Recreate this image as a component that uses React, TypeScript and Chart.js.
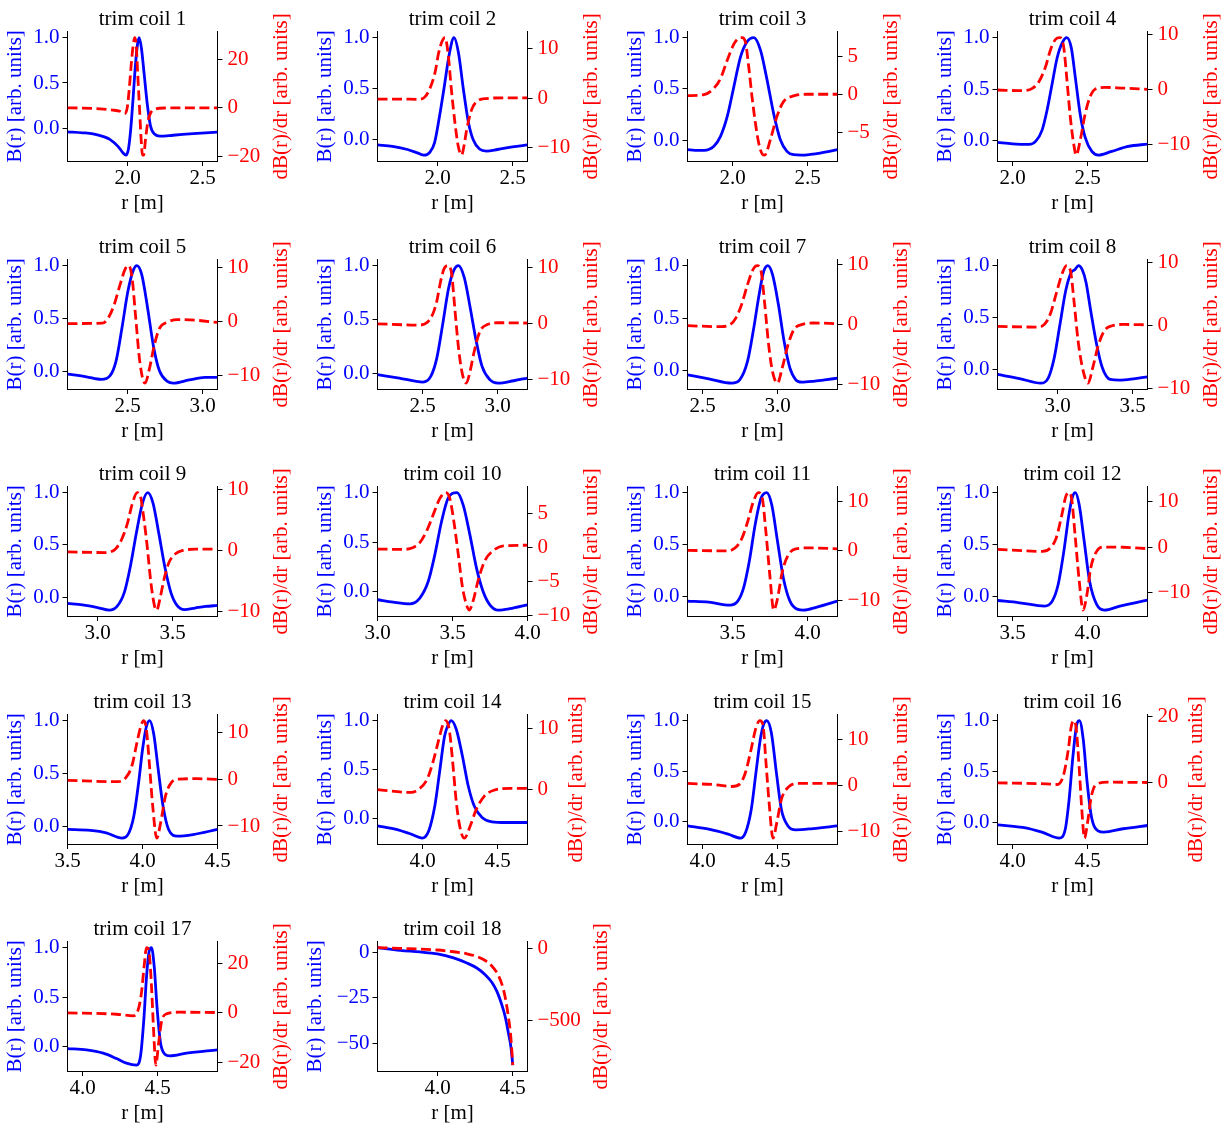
import React, { useEffect, useRef } from "react";
import { Chart, registerables } from "chart.js";

Chart.register(...registerables);

type Pt = [number, number];

// ------------------------------------------------------------------ data
const coilTitles: string[] = [
  "trim coil 1", "trim coil 2", "trim coil 3", "trim coil 4", "trim coil 5", "trim coil 6",
  "trim coil 7", "trim coil 8", "trim coil 9", "trim coil 10", "trim coil 11", "trim coil 12",
  "trim coil 13", "trim coil 14", "trim coil 15", "trim coil 16", "trim coil 17", "trim coil 18",
];

const xLimits: Pt[] = [
  [1.6, 2.6], [1.6, 2.6], [1.7, 2.7], [1.9, 2.9], [2.1, 3.1], [2.2, 3.2],
  [2.4, 3.4], [2.6, 3.6], [2.8, 3.8], [3.0, 4.0], [3.2, 4.2], [3.4, 4.4],
  [3.5, 4.5], [3.7, 4.7], [3.9, 4.9], [3.9, 4.9], [3.9, 4.9], [3.6, 4.6],
];

const xTickValues: number[][] = [
  [2.0, 2.5], [2.0, 2.5], [2.0, 2.5], [2.0, 2.5], [2.5, 3.0], [2.5, 3.0],
  [2.5, 3.0], [3.0, 3.5], [3.0, 3.5], [3.0, 3.5, 4.0], [3.5, 4.0], [3.5, 4.0],
  [3.5, 4.0, 4.5], [4.0, 4.5], [4.0, 4.5], [4.0, 4.5], [4.0, 4.5], [4.0, 4.5],
];

const fieldTicks: number[] = [0, 0.5, 1.0];
const fieldTicksCoil18: number[] = [-50, -25, 0];

const derivTickValues: number[][] = [
  [-20, 0, 20], [-10, 0, 10], [-5, 0, 5], [-10, 0, 10], [-10, 0, 10], [-10, 0, 10],
  [-10, 0, 10], [-10, 0, 10], [-10, 0, 10], [-10, -5, 0, 5], [-10, 0, 10], [-10, 0, 10],
  [-10, 0, 10], [0, 10], [-10, 0, 10], [0, 20], [-20, 0, 20], [-500, 0],
];

// B(r) (solid blue) and dB(r)/dr (dashed red), [r, value]
const field1: Pt[] = [[1.6,-0.037],[1.7,-0.048],[1.771,-0.06],[1.84,-0.09],[1.882,-0.12],[1.938,-0.2],[1.971,-0.27],[1.989,-0.294],[2.007,-0.22],[2.022,0.0],[2.038,0.35],[2.053,0.7],[2.067,0.93],[2.078,1.0],[2.093,0.88],[2.111,0.6],[2.131,0.28],[2.153,0.03],[2.182,-0.065],[2.216,-0.085],[2.304,-0.075],[2.438,-0.057],[2.6,-0.04]];
const deriv1: Pt[] = [[1.6,0],[1.7,-0.1],[1.816,-0.4],[1.9,-0.9],[1.949,-1.4],[1.982,-2.4],[1.998,0],[2.012,8],[2.025,18],[2.038,26],[2.048,29],[2.058,26],[2.068,14],[2.08,0],[2.09,-12],[2.1,-19.5],[2.108,-19.5],[2.12,-13],[2.135,-6],[2.155,-2],[2.185,-0.5],[2.25,-0.05],[2.4,0],[2.6,0]];

const field2: Pt[] = [[1.6,-0.05],[1.7,-0.065],[1.8,-0.095],[1.87,-0.13],[1.91,-0.15],[1.95,-0.12],[1.98,-0.03],[2.01,0.2],[2.043,0.5],[2.08,0.85],[2.11,1.0],[2.14,0.85],[2.172,0.5],[2.205,0.18],[2.238,0.0],[2.28,-0.09],[2.326,-0.11],[2.4,-0.095],[2.5,-0.07],[2.6,-0.05]];
const deriv2: Pt[] = [[1.6,-0.2],[1.75,-0.2],[1.88,-0.25],[1.918,0.3],[1.95,2],[1.985,5.4],[2.007,9.1],[2.03,11.5],[2.05,12.3],[2.062,11.0],[2.073,8.4],[2.093,1.6],[2.117,-5.2],[2.139,-9.9],[2.161,-11.6],[2.175,-10],[2.194,-6.5],[2.227,-2.4],[2.26,-0.75],[2.326,-0.1],[2.45,0.05],[2.6,0.05]];

const field3: Pt[] = [[1.7,-0.094],[1.75,-0.1],[1.81,-0.1],[1.876,-0.06],[1.92,0.036],[1.965,0.23],[2.009,0.52],[2.053,0.81],[2.097,0.96],[2.142,1.0],[2.186,0.88],[2.23,0.59],[2.274,0.26],[2.319,0.003],[2.363,-0.11],[2.407,-0.143],[2.46,-0.147],[2.52,-0.14],[2.584,-0.127],[2.7,-0.094]];
const deriv3: Pt[] = [[1.7,-0.13],[1.81,0],[1.876,0.83],[1.92,2.1],[1.965,4.5],[2.009,6.6],[2.04,7.35],[2.064,7.45],[2.086,6.9],[2.108,3.65],[2.13,-0.26],[2.153,-3.74],[2.175,-6.35],[2.2,-7.8],[2.215,-7.9],[2.252,-5.9],[2.296,-2.87],[2.34,-0.91],[2.407,-0.17],[2.496,0.05],[2.7,0.05]];

const field4: Pt[] = [[1.9,-0.016],[2.0,-0.03],[2.11,-0.035],[2.154,-0.006],[2.198,0.106],[2.231,0.3],[2.264,0.55],[2.297,0.8],[2.332,0.95],[2.362,1.0],[2.392,0.9],[2.42,0.6],[2.452,0.25],[2.485,0.03],[2.529,-0.103],[2.573,-0.139],[2.661,-0.103],[2.771,-0.055],[2.9,-0.032]];
const deriv4: Pt[] = [[1.9,-0.12],[2.066,-0.24],[2.132,0.18],[2.176,1.4],[2.22,4.1],[2.253,7.2],[2.286,9.1],[2.315,9.45],[2.341,7.8],[2.363,1.7],[2.385,-5.0],[2.407,-9.8],[2.425,-12.0],[2.452,-9.2],[2.485,-4.4],[2.518,-1.3],[2.55,0],[2.617,0.36],[2.727,0.24],[2.9,0]];

const field5: Pt[] = [[2.1,-0.025],[2.226,-0.05],[2.326,-0.075],[2.384,-0.04],[2.424,0.1],[2.463,0.41],[2.503,0.76],[2.54,0.96],[2.563,1.0],[2.595,0.915],[2.634,0.6],[2.674,0.23],[2.713,0.006],[2.766,-0.094],[2.805,-0.11],[2.911,-0.08],[3.016,-0.056],[3.1,-0.056]];
const deriv5: Pt[] = [[2.1,-0.4],[2.332,-0.34],[2.371,0.6],[2.411,3.1],[2.45,6.8],[2.487,9.9],[2.508,10.4],[2.531,8.0],[2.555,0.6],[2.582,-7.5],[2.616,-11.5],[2.647,-8.7],[2.679,-4.4],[2.713,-1.3],[2.766,-0.15],[2.832,0.34],[2.963,0.2],[3.1,-0.2]];

const field6: Pt[] = [[2.2,-0.012],[2.345,-0.043],[2.503,-0.08],[2.555,-0.028],[2.595,0.14],[2.634,0.45],[2.674,0.79],[2.71,0.96],[2.74,1.0],[2.779,0.885],[2.818,0.61],[2.858,0.3],[2.897,0.065],[2.95,-0.06],[3.003,-0.09],[3.108,-0.068],[3.2,-0.043]];
const deriv6: Pt[] = [[2.2,-0.1],[2.476,-0.33],[2.529,0.1],[2.568,1.6],[2.595,3.9],[2.621,7.5],[2.647,9.9],[2.674,10.3],[2.695,8.7],[2.713,3.4],[2.74,-4.4],[2.766,-9.1],[2.792,-10.7],[2.818,-8.5],[2.845,-5.0],[2.884,-1.4],[2.937,-0.2],[3.003,0.09],[3.2,0.03]];

const field7: Pt[] = [[2.4,-0.038],[2.542,-0.076],[2.696,-0.117],[2.748,-0.086],[2.8,0.089],[2.838,0.375],[2.877,0.72],[2.908,0.946],[2.936,1.0],[2.967,0.914],[3.006,0.63],[3.044,0.28],[3.083,0.025],[3.122,-0.086],[3.16,-0.108],[3.238,-0.1],[3.315,-0.086],[3.4,-0.07]];
const deriv7: Pt[] = [[2.4,-0.17],[2.619,-0.34],[2.684,0],[2.722,1.1],[2.761,3.4],[2.8,6.7],[2.838,9.3],[2.864,9.9],[2.89,9.0],[2.915,3.4],[2.941,-3.4],[2.967,-7.9],[3.0,-9.8],[3.031,-7.3],[3.07,-3.4],[3.109,-0.84],[3.16,0],[3.238,0.28],[3.4,0.17]];

const field8: Pt[] = [[2.6,-0.048],[2.747,-0.087],[2.888,-0.131],[2.939,-0.08],[2.978,0.11],[3.016,0.43],[3.055,0.76],[3.09,0.93],[3.115,0.96],[3.14,1.0],[3.165,0.96],[3.19,0.84],[3.222,0.56],[3.261,0.24],[3.299,0.016],[3.351,-0.096],[3.415,-0.103],[3.518,-0.087],[3.6,-0.07]];
const deriv8: Pt[] = [[2.6,-0.16],[2.875,-0.26],[2.914,0.2],[2.952,1.8],[2.991,5.0],[3.029,8.1],[3.06,9.5],[3.086,8.7],[3.112,3.4],[3.137,-2.4],[3.171,-7.2],[3.204,-9.15],[3.235,-6.7],[3.274,-3.0],[3.312,-0.85],[3.364,-0.05],[3.44,0.16],[3.6,0.1]];

const field9: Pt[] = [[2.8,-0.06],[2.9,-0.075],[3.0,-0.1],[3.08,-0.125],[3.13,-0.09],[3.18,0.05],[3.22,0.3],[3.26,0.62],[3.3,0.9],[3.335,1.0],[3.37,0.9],[3.41,0.6],[3.45,0.28],[3.49,0.04],[3.53,-0.08],[3.58,-0.12],[3.65,-0.105],[3.72,-0.09],[3.8,-0.08]];
const deriv9: Pt[] = [[2.8,-0.2],[3.05,-0.3],[3.12,0.3],[3.16,1.8],[3.2,4.5],[3.23,7.5],[3.265,9.5],[3.285,9.0],[3.305,6],[3.33,1.0],[3.355,-5.0],[3.38,-9.0],[3.395,-9.7],[3.415,-8.0],[3.445,-4.5],[3.475,-2.0],[3.52,-0.5],[3.57,0.05],[3.65,0.25],[3.8,0.25]];

const field10: Pt[] = [[3.0,-0.084],[3.104,-0.108],[3.216,-0.125],[3.282,-0.067],[3.338,0.1],[3.382,0.37],[3.427,0.707],[3.471,0.943],[3.53,1.0],[3.571,0.875],[3.616,0.572],[3.66,0.236],[3.704,0.0],[3.749,-0.135],[3.804,-0.189],[3.882,-0.175],[4.0,-0.135]];
const deriv10: Pt[] = [[3.0,-0.19],[3.171,-0.24],[3.238,0.05],[3.282,0.77],[3.327,2.45],[3.371,4.86],[3.416,7.3],[3.456,8.15],[3.482,7.3],[3.509,3.9],[3.538,-0.9],[3.567,-5.9],[3.593,-8.4],[3.611,-9.2],[3.638,-7.8],[3.671,-4.8],[3.716,-1.9],[3.771,-0.43],[3.838,0.29],[4.0,0.38]];

const field11: Pt[] = [[3.2,-0.048],[3.342,-0.058],[3.483,-0.087],[3.535,-0.048],[3.574,0.08],[3.612,0.337],[3.651,0.69],[3.69,0.945],[3.728,1.0],[3.762,0.88],[3.8,0.53],[3.839,0.176],[3.883,-0.048],[3.935,-0.128],[3.973,-0.135],[4.063,-0.106],[4.2,-0.048]];
const deriv11: Pt[] = [[3.2,0.1],[3.471,0],[3.522,0.74],[3.561,2.4],[3.6,5.75],[3.638,9.8],[3.672,11.7],[3.697,10.8],[3.723,3.7],[3.749,-4.95],[3.775,-11.9],[3.8,-9.6],[3.831,-4.3],[3.87,-0.94],[3.922,0.4],[4.012,0.6],[4.2,0.4]];

const field12: Pt[] = [[3.4,-0.042],[3.547,-0.064],[3.714,-0.096],[3.765,-0.048],[3.804,0.11],[3.842,0.43],[3.876,0.785],[3.9,0.96],[3.919,1.0],[3.945,0.88],[3.978,0.53],[4.014,0.144],[4.061,-0.08],[4.112,-0.135],[4.215,-0.096],[4.4,-0.038]];
const deriv12: Pt[] = [[3.4,-0.47],[3.7,-0.9],[3.752,-0.18],[3.791,2.0],[3.829,7.1],[3.855,11.1],[3.876,12.0],[3.894,10.7],[3.919,2.0],[3.945,-7.45],[3.971,-13.8],[3.996,-10.4],[4.022,-4.5],[4.061,-0.9],[4.112,0.04],[4.24,0],[4.4,-0.3]];

const field13: Pt[] = [[3.5,-0.031],[3.653,-0.04],[3.758,-0.063],[3.863,-0.113],[3.903,-0.08],[3.942,0.094],[3.974,0.41],[4.0,0.724],[4.026,0.944],[4.047,1.0],[4.074,0.88],[4.105,0.535],[4.137,0.19],[4.174,-0.031],[4.232,-0.094],[4.337,-0.079],[4.5,-0.031]];
const deriv13: Pt[] = [[3.5,-0.2],[3.837,-0.5],[3.889,0.36],[3.929,2.86],[3.963,7.86],[3.989,11.4],[4.008,12.6],[4.026,10.7],[4.047,2.86],[4.068,-5.7],[4.095,-12.6],[4.121,-9.3],[4.153,-3.6],[4.192,-0.7],[4.245,0.07],[4.363,0.14],[4.5,0]];

const field14: Pt[] = [[3.7,-0.071],[3.818,-0.105],[3.924,-0.155],[3.997,-0.196],[4.042,-0.12],[4.082,0.13],[4.116,0.5],[4.147,0.84],[4.172,0.96],[4.192,1.0],[4.226,0.907],[4.266,0.64],[4.305,0.334],[4.345,0.13],[4.397,0.013],[4.463,-0.03],[4.555,-0.037],[4.7,-0.037]];
const deriv14: Pt[] = [[3.7,-0.1],[3.924,-0.55],[3.976,0],[4.029,1.5],[4.068,4.3],[4.108,8.1],[4.134,10.5],[4.155,11.3],[4.179,9.7],[4.2,4.8],[4.226,-2.3],[4.253,-6.7],[4.279,-8.1],[4.318,-6.1],[4.358,-3.4],[4.411,-1.2],[4.476,-0.2],[4.582,0.1],[4.7,0.1]];

const field15: Pt[] = [[3.9,-0.043],[4.042,-0.076],[4.171,-0.125],[4.253,-0.164],[4.287,-0.108],[4.325,0.12],[4.356,0.48],[4.385,0.81],[4.407,0.96],[4.428,1.0],[4.459,0.88],[4.493,0.48],[4.526,0.12],[4.57,-0.043],[4.622,-0.082],[4.738,-0.069],[4.9,-0.043]];
const deriv15: Pt[] = [[3.9,0.37],[4.093,0.07],[4.196,-0.3],[4.248,0.22],[4.287,2.8],[4.325,7.9],[4.356,12.4],[4.382,14.0],[4.403,13.1],[4.423,5.0],[4.444,-3.8],[4.47,-11.5],[4.495,-8.2],[4.526,-3.1],[4.57,-0.5],[4.635,0.37],[4.9,0.37]];

const field16: Pt[] = [[3.9,-0.023],[4.068,-0.049],[4.196,-0.095],[4.312,-0.154],[4.351,-0.072],[4.377,0.22],[4.403,0.65],[4.428,0.96],[4.446,1.0],[4.472,0.81],[4.498,0.387],[4.526,0.059],[4.57,-0.082],[4.609,-0.095],[4.738,-0.062],[4.9,-0.03]];
const deriv16: Pt[] = [[3.9,0],[4.222,-0.3],[4.3,-0.5],[4.338,2.0],[4.372,10],[4.392,17],[4.408,18.7],[4.423,17],[4.444,5],[4.462,-8],[4.48,-16.6],[4.5,-12],[4.526,-4],[4.557,-0.5],[4.635,0.2],[4.9,0.1]];

const field17: Pt[] = [[3.9,-0.017],[4.027,-0.03],[4.138,-0.063],[4.227,-0.117],[4.293,-0.163],[4.36,-0.183],[4.387,-0.09],[4.409,0.277],[4.427,0.71],[4.444,0.96],[4.46,1.0],[4.478,0.81],[4.498,0.377],[4.52,0.043],[4.549,-0.073],[4.582,-0.09],[4.693,-0.063],[4.9,-0.03]];
const deriv17: Pt[] = [[3.9,0],[4.227,-0.55],[4.338,-1.2],[4.371,1.2],[4.393,8.1],[4.411,19],[4.427,26.5],[4.444,24.5],[4.46,10.8],[4.476,-9.7],[4.489,-21.2],[4.507,-12.5],[4.527,-3.6],[4.56,-0.4],[4.649,0.27],[4.9,0.14]];

const field18: Pt[] = [[3.6,2.6],[3.751,1.1],[3.884,0.2],[4.0,-0.9],[4.107,-3.1],[4.196,-5.9],[4.262,-8.6],[4.318,-12.3],[4.362,-16.5],[4.396,-21.5],[4.429,-28.9],[4.451,-35.3],[4.473,-44.5],[4.489,-51.8],[4.502,-62]];
const deriv18: Pt[] = [[3.6,8],[3.751,2],[3.884,-2],[4.0,-9],[4.107,-21],[4.196,-35],[4.262,-54],[4.318,-82],[4.362,-120],[4.396,-167],[4.429,-246],[4.451,-336],[4.473,-477],[4.489,-617],[4.502,-810]];

const fieldSeries: Pt[][] = [field1, field2, field3, field4, field5, field6, field7, field8, field9, field10, field11, field12, field13, field14, field15, field16, field17, field18];
const derivSeries: Pt[][] = [deriv1, deriv2, deriv3, deriv4, deriv5, deriv6, deriv7, deriv8, deriv9, deriv10, deriv11, deriv12, deriv13, deriv14, deriv15, deriv16, deriv17, deriv18];

// ------------------------------------------------------------------ style / layout
const FONT = "'Liberation Serif', 'Times New Roman', serif";
const FS = 21;
const REF_FS = 20; // size of the original (Computer Modern) text, used for label spacing
const BLUE = "#0000ff";
const RED = "#ff0000";
const ROW_TOPS = [0, 228, 455, 683, 910];
const CELL_W = 310;
const CELL_H = 227;
const EXTRA = 14; // canvas extends a little to the left so wide y-labels are not clipped
const AREA_LEFT = 67.5;
const AREA_RIGHT = 217.5;
const TITLE_H = 31.7;
const AREA_BOTTOM = 161;
const TICK_LEN = 5;

const fmtTick = (v: number, dec: number) => (v < -1e-12 ? "\u2212" : "") + Math.abs(v).toFixed(dec);
const cmWidth = (s: string) =>
  s.split("").reduce((w, c) => w + (c === "." ? 0.278 : c === "\u2212" ? 0.778 : 0.5), 0) * REF_FS;

const paddedRange = (vals: number[]): [number, number] => {
  const mn = Math.min(...vals);
  const mx = Math.max(...vals);
  const m = 0.05 * (mx - mn);
  return [mn - m, mx + m];
};

const rightTitlePlugin = {
  id: "rightTitle",
  afterDraw(chart: any, _args: any, opts: any) {
    if (!opts || !opts.text) return;
    const { ctx, chartArea } = chart;
    ctx.save();
    ctx.translate(opts.x, (chartArea.top + chartArea.bottom) / 2);
    ctx.rotate(-Math.PI / 2);
    ctx.font = `${FS}px ${FONT}`;
    ctx.fillStyle = opts.color;
    ctx.textAlign = "center";
    ctx.textBaseline = "middle";
    ctx.fillText(opts.text, 0, 0);
    ctx.restore();
  },
};

function Panel({ index }: { index: number }) {
  const ref = useRef<HTMLCanvasElement | null>(null);
  const row = Math.floor(index / 4);
  const col = index % 4;
  const w = col === 3 ? 1225 - 3 * CELL_W : CELL_W;
  const cw = w + EXTRA;

  useEffect(() => {
    const canvas = ref.current;
    if (!canvas) return;
    const field = fieldSeries[index];
    const deriv = derivSeries[index];
    const [yMin, yMax] = paddedRange(field.map((p) => p[1]));
    const [y1Min, y1Max] = paddedRange(deriv.map((p) => p[1]));
    const [xMin, xMax] = xLimits[index];
    const eps = 1e-9;
    const lTicksAll = index === 17 ? fieldTicksCoil18 : fieldTicks;
    const lTicks = lTicksAll.filter((v) => v >= yMin - eps && v <= yMax + eps);
    const rTicks = derivTickValues[index].filter((v) => v >= y1Min - eps && v <= y1Max + eps);
    const lDec = lTicksAll.every((t) => Number.isInteger(t)) ? 0 : 1;
    const lW = Math.max(...lTicks.map((v) => cmWidth(fmtTick(v, lDec))));
    const rW = Math.max(...rTicks.map((v) => cmWidth(fmtTick(v, 0))));
    const leftTitleCenter = EXTRA + AREA_LEFT - TICK_LEN - 3 - lW - 8.4 - 10;
    const rightTitleCenter = EXTRA + AREA_RIGHT + TICK_LEN + 5 + rW + 8.6 + 10;
    const lh = FS * 1.2;
    const font = { family: FONT, size: FS, lineHeight: 1.2 };

    const axisCommon = {
      grid: { drawOnChartArea: false, drawTicks: true, tickLength: TICK_LEN, color: "#000", lineWidth: 1 },
      border: { display: true, color: "#000", width: 1 },
    };

    const chart = new Chart(canvas, {
      type: "line",
      data: {
        datasets: [
          {
            label: "dB(r)/dr",
            data: deriv,
            yAxisID: "y1",
            borderColor: RED,
            backgroundColor: RED,
            borderWidth: 2.8,
            borderDash: [10, 4.5],
            borderCapStyle: "butt",
            pointRadius: 0,
            cubicInterpolationMode: "monotone",
            fill: false,
            order: 0,
          },
          {
            label: "B(r)",
            data: field,
            yAxisID: "y",
            borderColor: BLUE,
            backgroundColor: BLUE,
            borderWidth: 2.8,
            pointRadius: 0,
            cubicInterpolationMode: "monotone",
            fill: false,
            order: 1,
          },
        ],
      } as any,
      options: {
        responsive: false,
        animation: false,
        devicePixelRatio: 1,
        layout: { padding: 0 },
        events: [],
        plugins: {
          legend: { display: false },
          tooltip: { enabled: false },
          title: {
            display: true,
            text: coilTitles[index],
            color: "#000",
            font: { ...font, weight: "normal" },
            fullSize: false,
            padding: { top: 6.4, bottom: TITLE_H - 6.4 - lh },
          },
          rightTitle: { text: "dB(r)/dr [arb. units]", x: rightTitleCenter, color: RED },
        } as any,
        scales: {
          x: {
            type: "linear",
            position: "bottom",
            min: xMin,
            max: xMax,
            ...axisCommon,
            afterFit: (s: any) => {
              s.height = CELL_H - AREA_BOTTOM;
            },
            afterBuildTicks: (s: any) => {
              s.ticks = xTickValues[index].map((v) => ({ value: v }));
            },
            ticks: {
              color: "#000",
              font,
              padding: 0,
              autoSkip: false,
              maxRotation: 0,
              callback: (v: any) => fmtTick(Number(v), 1),
            },
            title: { display: true, text: "r [m]", color: "#000", font, padding: { top: 0, bottom: 24 - lh / 2 } },
          },
          y: {
            type: "linear",
            position: "left",
            min: yMin,
            max: yMax,
            ...axisCommon,
            afterFit: (s: any) => {
              s.width = EXTRA + AREA_LEFT;
            },
            afterBuildTicks: (s: any) => {
              s.ticks = lTicks.map((v) => ({ value: v }));
            },
            ticks: {
              color: BLUE,
              font,
              padding: 3,
              autoSkip: false,
              callback: (v: any) => fmtTick(Number(v), lDec),
            },
            title: {
              display: true,
              text: "B(r) [arb. units]",
              color: BLUE,
              font,
              padding: { top: leftTitleCenter - lh / 2, bottom: 0 },
            },
          },
          y1: {
            type: "linear",
            position: "right",
            min: y1Min,
            max: y1Max,
            ...axisCommon,
            afterFit: (s: any) => {
              s.width = w - AREA_RIGHT;
            },
            afterBuildTicks: (s: any) => {
              s.ticks = rTicks.map((v) => ({ value: v }));
            },
            ticks: {
              color: RED,
              font,
              padding: 5,
              autoSkip: false,
              callback: (v: any) => fmtTick(Number(v), 0),
            },
          },
        } as any,
      },
      plugins: [rightTitlePlugin as any],
    });
    return () => chart.destroy();
  }, [index, w]);

  return (
    <canvas
      ref={ref}
      width={cw}
      height={CELL_H}
      style={{ position: "absolute", left: col * CELL_W - EXTRA, top: ROW_TOPS[row], width: cw, height: CELL_H }}
    />
  );
}

export default function App() {
  return (
    <div
      style={{
        position: "absolute",
        left: 0,
        top: 0,
        width: 1225,
        height: 1132,
        overflow: "hidden",
        background: "#ffffff",
      }}
    >
      {fieldSeries.map((_, i) => (
        <Panel key={i} index={i} />
      ))}
    </div>
  );
}
